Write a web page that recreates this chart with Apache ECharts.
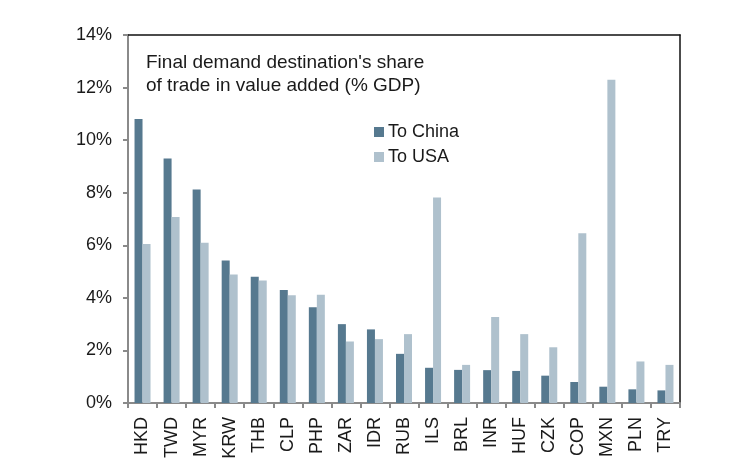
<!DOCTYPE html>
<html>
<head>
<meta charset="utf-8">
<script src="https://cdn.jsdelivr.net/npm/echarts@6/dist/echarts.min.js"></script>
<style>html,body{margin:0;padding:0;background:#fff;}#c{width:747px;height:473px;}</style>
</head>
<body>
<div id="c"></div>
<script>
const categories = ["HKD","TWD","MYR","KRW","THB","CLP","PHP","ZAR","IDR","RUB","ILS","BRL","INR","HUF","CZK","COP","MXN","PLN","TRY"];
const toChina = [10.8,9.3,8.12,5.42,4.8,4.3,3.64,3.0,2.8,1.87,1.34,1.26,1.25,1.22,1.04,0.8,0.62,0.52,0.48];
const toUSA = [6.05,7.08,6.1,4.89,4.66,4.1,4.12,2.34,2.43,2.62,7.82,1.45,3.27,2.62,2.12,6.46,12.3,1.58,1.45];
const yTicks = [0,2,4,6,8,10,12,14];
const titleText = "Final demand destination's share\nof trade in value added (% GDP)";

const chart = echarts.init(document.getElementById('c'), null, {renderer:'canvas'});
const font = "Liberation Sans, Arial, sans-serif";
chart.setOption({
  animation:false,
  backgroundColor:'#fff',
  textStyle:{fontFamily:font},
  title:{text:titleText,left:141,top:46,textStyle:{fontSize:19,lineHeight:23,fontWeight:'normal',color:'#1a1a1a',fontFamily:font}},
  legend:{orient:'vertical',left:369,top:118,itemWidth:10,itemHeight:10,itemGap:7,icon:'rect',
    textStyle:{fontSize:18,color:'#1a1a1a',fontFamily:font,padding:[0,0,0,-1]},data:['To China','To USA']},
  grid:{left:128,right:67,top:35,bottom:70},
  xAxis:[{type:'category',data:categories,
    axisLine:{lineStyle:{color:'#8a8a8a',width:2}},
    axisTick:{show:true,length:5,lineStyle:{color:'#8a8a8a',width:2}},
    axisLabel:{rotate:90,fontSize:18,color:'#1a1a1a',margin:14,fontFamily:font}},
   {type:'category',data:categories,position:'top',axisLine:{onZero:false,lineStyle:{color:'#111',width:1.5}},axisTick:{show:false},axisLabel:{show:false}}],
  yAxis:[{type:'value',min:0,max:14,interval:2,
    axisLine:{show:true,lineStyle:{color:'#8a8a8a',width:2}},
    axisTick:{show:true,length:5,lineStyle:{color:'#8a8a8a',width:2}},
    splitLine:{show:false},
    axisLabel:{fontSize:18,color:'#1a1a1a',margin:16,fontFamily:font,formatter:v=>yTicks.includes(v)?v+'%':''}},
   {type:'value',min:0,max:14,interval:2,position:'right',axisLine:{show:true,onZero:false,lineStyle:{color:'#111',width:1.5}},axisTick:{show:false},axisLabel:{show:false},splitLine:{show:false}}],
  series:[
    {name:'To China',type:'bar',data:toChina,barWidth:8,barGap:'0%',itemStyle:{color:'#56798F'}},
    {name:'To USA',type:'bar',data:toUSA,barWidth:8,barGap:'0%',itemStyle:{color:'#AFC1CD'}}
  ]
});
</script>
</body>
</html>
